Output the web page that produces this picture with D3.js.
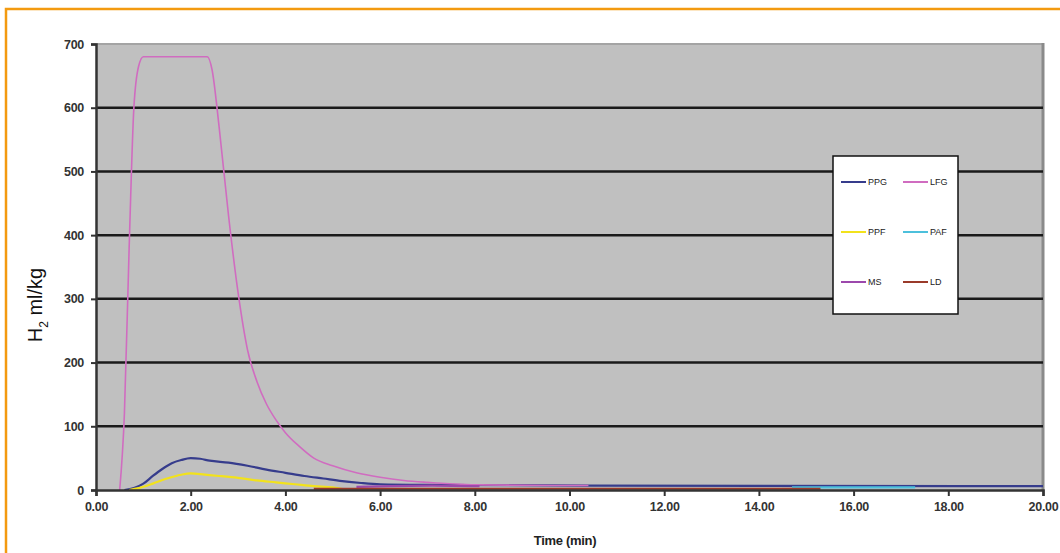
<!DOCTYPE html>
<html>
<head>
<meta charset="utf-8">
<script src="https://cdn.jsdelivr.net/npm/d3@7"></script>
<style>
  body { margin: 0; background: #fff; }
  svg { display: block; font-family: "Liberation Sans", Arial, sans-serif; }
</style>
</head>
<body>
<div id="chart"></div>
<script>
"use strict";

// ---- data (time in min, H2 in ml/kg)
var xTicks = [0, 2, 4, 6, 8, 10, 12, 14, 16, 18, 20];
var yTicks = [0, 100, 200, 300, 400, 500, 600, 700];

var ppgTime   = [0.6, 0.8, 1.0, 1.2, 1.4, 1.6, 1.8, 2.0, 2.2, 2.4, 2.8, 3.2, 3.6, 4.0, 4.4, 4.8, 5.2, 5.6, 6.0, 7.0, 10.4, 20.0];
var ppgValues = [0, 3, 10, 22, 33, 42, 47, 50, 49, 46, 43, 38, 32, 27, 22, 18, 14, 11, 9, 8, 7, 6];

var lfgTime   = [0.5, 0.6, 0.7, 0.8, 0.9, 1.0, 2.35, 2.45, 2.6, 2.8, 3.0, 3.2, 3.4, 3.6, 3.8, 4.0, 4.3, 4.6, 5.0, 5.5, 6.0, 6.5, 7.0, 7.2, 8.1, 10.4];
var lfgValues = [0, 120, 380, 600, 665, 680, 680, 660, 570, 430, 310, 220, 170, 135, 110, 90, 68, 50, 38, 27, 20, 15, 12, 11, 8, 7];

var ppfTime   = [0.7, 0.9, 1.2, 1.5, 1.8, 2.0, 2.3, 2.6, 3.0, 3.4, 3.8, 4.2, 4.6, 5.0, 5.3];
var ppfValues = [0, 3, 10, 18, 24, 26, 24, 22, 19, 15, 12, 9, 6, 4, 0];

var pafTime   = [14.7, 17.3];
var pafValues = [4, 4];

var msTime    = [5.5, 7.1, 8.1];
var msValues  = [5, 7, 6];

var ldTime    = [4.6, 14.7, 15.3];
var ldValues  = [2, 2, 2];

var seriesNames  = ["PPG", "LFG", "PPF", "PAF", "MS", "LD"];
var seriesColors = ["#363c8c", "#d06cc0", "#f2e21c", "#4cc0dc", "#9c48ac", "#9a3a2a"];
var seriesTimes  = [ppgTime, lfgTime, ppfTime, pafTime, msTime, ldTime];
var seriesVals   = [ppgValues, lfgValues, ppfValues, pafValues, msValues, ldValues];

var width = 1060, height = 553;
var margin = { left: 96, right: 17, top: 44, bottom: 63 };

var svg = d3.select("#chart").append("svg")
    .attr("width", width)
    .attr("height", height);

// orange frame
svg.append("rect")
    .attr("x", 6).attr("y", 9)
    .attr("width", width + 20).attr("height", height + 20)
    .attr("fill", "none")
    .attr("stroke", "#f39a10")
    .attr("stroke-width", 2.5);

var x = d3.scaleLinear().domain([0, 20]).range([margin.left, width - margin.right]);
var y = d3.scaleLinear().domain([0, 700]).range([height - margin.bottom, margin.top]);

// plot area
svg.append("rect")
    .attr("x", x(0)).attr("y", y(700))
    .attr("width", x(20) - x(0)).attr("height", y(0) - y(700))
    .attr("fill", "#c0c0c0");

// top / right shade of the plot frame
svg.append("line")
    .attr("x1", x(0)).attr("x2", x(20))
    .attr("y1", y(700)).attr("y2", y(700))
    .attr("stroke", "#a4a4a4").attr("stroke-width", 2);
svg.append("line")
    .attr("x1", x(20)).attr("x2", x(20))
    .attr("y1", y(700) - 1).attr("y2", y(0))
    .attr("stroke", "#8a8a8a").attr("stroke-width", 3);

// gridlines
svg.append("g")
    .selectAll("line")
    .data(yTicks.filter(function (d) { return d > 0 && d < 700; }))
    .enter().append("line")
    .attr("x1", x(0)).attr("x2", x(20))
    .attr("y1", function (d) { return y(d); })
    .attr("y2", function (d) { return y(d); })
    .attr("stroke", "#1a1a1a")
    .attr("stroke-width", 2.5);

// series
var line = d3.line()
    .curve(d3.curveMonotoneX)
    .x(function (d) { return x(d[0]); })
    .y(function (d) { return y(d[1]); });

seriesNames.forEach(function (name, i) {
    var pts = seriesTimes[i].map(function (t, j) { return [t, seriesVals[i][j]]; });
    svg.append("path")
        .datum(pts)
        .attr("fill", "none")
        .attr("stroke", seriesColors[i])
        .attr("stroke-width", name == "LFG" ? 1.6 : 2.2)
        .attr("d", line);
});

// axes
var yAxis = d3.axisLeft(y).tickValues(yTicks).tickSize(5).tickFormat(d3.format("d"));
var gy = svg.append("g").attr("transform", "translate(" + x(0) + ",0)").call(yAxis);
var xAxis = d3.axisBottom(x).tickValues(xTicks).tickSize(6).tickFormat(d3.format(".2f"));
var gx = svg.append("g").attr("transform", "translate(0," + y(0) + ")").call(xAxis);

[gx, gy].forEach(function (g) {
    g.select(".domain").attr("stroke", "#333").attr("stroke-width", 2.5);
    g.selectAll(".tick line").attr("stroke", "#333").attr("stroke-width", 2);
    g.selectAll(".tick text")
        .attr("fill", "#333")
        .attr("font-size", 12.5)
        .attr("font-weight", "bold")
        .attr("letter-spacing", "-0.3")
        .attr("font-family", "'Liberation Sans', Arial, sans-serif");
});
gy.selectAll(".tick text").attr("x", -12);
gx.selectAll(".tick text").attr("y", 12);

// axis titles
svg.append("text")
    .attr("transform", "translate(42,305) rotate(-90)")
    .attr("text-anchor", "middle")
    .attr("font-size", 20)
    .attr("fill", "#111")
    .html('H<tspan font-size="12" dy="6">2</tspan><tspan dy="-6"> ml/kg</tspan>');

svg.append("text")
    .attr("x", 565).attr("y", 545)
    .attr("text-anchor", "middle")
    .attr("font-size", 13)
    .attr("font-weight", "bold")
    .attr("letter-spacing", "-0.3")
    .attr("fill", "#222")
    .text("Time (min)");

// legend
var legend = svg.append("g").attr("transform", "translate(833,156)");
legend.append("rect")
    .attr("width", 125).attr("height", 158)
    .attr("fill", "#fff")
    .attr("stroke", "#111")
    .attr("stroke-width", 1.5);

var items = legend.selectAll("g.item")
    .data(seriesNames)
    .enter().append("g")
    .attr("class", "item")
    .attr("transform", function (d, i) {
        return "translate(" + (i % 2 == 0 ? 8 : 70) + "," + (26 + Math.floor(i / 2) * 50) + ")";
    });

items.append("line")
    .attr("x1", 0).attr("x2", 25)
    .attr("stroke", function (d, i) { return seriesColors[i]; })
    .attr("stroke-width", 2);

items.append("text")
    .attr("x", 27).attr("y", 3)
    .attr("font-size", 9)
    .attr("fill", "#222")
    .text(function (d) { return d; });
</script>
</body>
</html>
